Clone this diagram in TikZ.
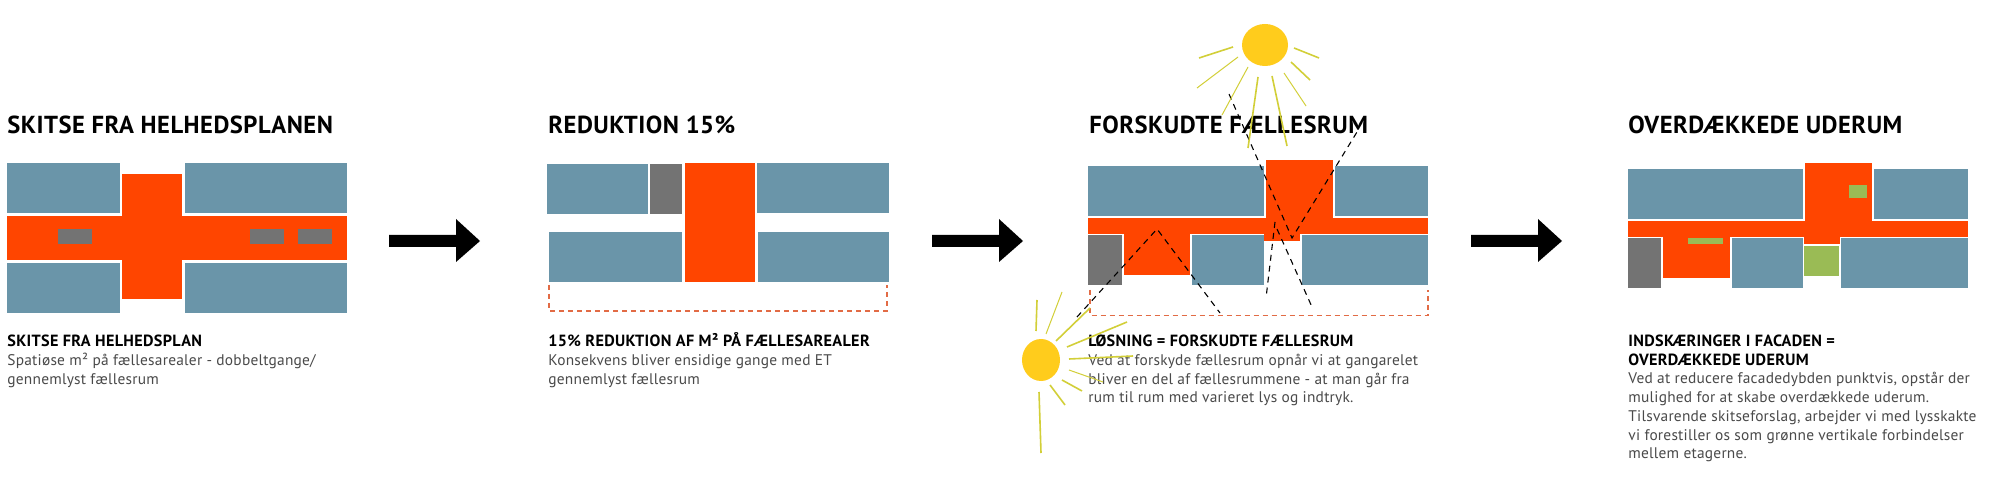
\documentclass[tikz,border=0pt]{standalone}
\usepackage{fontspec}
\setmainfont{PT Sans}
\definecolor{bluegrey}{HTML}{6A95A9}
\definecolor{hot}{HTML}{FF4500}
\definecolor{greybox}{HTML}{737373}
\definecolor{leaf}{HTML}{9ABB55}
\definecolor{sunfill}{HTML}{FFCC1C}
\definecolor{ray}{HTML}{D2CF38}
\definecolor{dashred}{HTML}{E26B45}
\definecolor{body}{HTML}{4A4A4A}
\newcommand{\bx}[3]{\fill[#1] (#2) rectangle (#3);}
\tikzset{
  x=0.5pt,y=-0.5pt,
  titletext/.style={anchor=base west,inner sep=0pt,font=\fontsize{12.3pt}{13pt}\selectfont\bfseries\addfontfeature{LetterSpace=2},text=black},
  headtext/.style={anchor=base west,inner sep=0pt,font=\fontsize{8.1pt}{9pt}\selectfont\bfseries\addfontfeature{LetterSpace=2},text=black},
  bodytext/.style={anchor=base west,inner sep=0pt,font=\fontsize{7.7pt}{9pt}\selectfont\addfontfeature{LetterSpace=1.5},text=body},
  rayline/.style={draw=ray,line width=0.8pt},
  raythin/.style={draw=ray,line width=0.5pt},
  blackdash/.style={draw=black,line width=0.55pt,dash pattern=on 3pt off 2.5pt},
  reddash/.style={draw=dashred,line width=0.7pt,dash pattern=on 2.5pt off 2pt},
}
\begin{document}
\begin{tikzpicture}
\useasboundingbox (0,0) rectangle (2000,496);
\fill[white] (0,0) rectangle (2000,496);
% panel 1
\bx{bluegrey}{7,163}{120,213}
\bx{bluegrey}{185,163}{347,213}
\bx{bluegrey}{7,263}{120,313}
\bx{bluegrey}{185,263}{347,313}
\bx{hot}{122,174}{182,299}
\bx{hot}{7,216}{347,260}
\bx{greybox}{58,229}{92,244}
\bx{greybox}{250,229}{284,244}
\bx{greybox}{298,229}{332,244}
% arrows
\fill[black] (389,235)--(456,235)--(456,219)--(480,241)--(456,262)--(456,247)--(389,247)--cycle;
\fill[black] (932,235)--(999,235)--(999,219)--(1023,241)--(999,262)--(999,247)--(932,247)--cycle;
\fill[black] (1471,235)--(1538,235)--(1538,219)--(1562,241)--(1538,262)--(1538,247)--(1471,247)--cycle;
% panel 2
\bx{bluegrey}{547,164}{648,214}
\bx{greybox}{650,164}{682,214}
\bx{hot}{685,163}{755,282}
\bx{bluegrey}{757,163}{889,213}
\bx{bluegrey}{549,232}{682,282}
\bx{bluegrey}{758,232}{889,282}
\draw[reddash] (549,285)--(549,311)--(887,311)--(887,285);
% panel 3
\bx{bluegrey}{1088,166}{1264,216}
\bx{bluegrey}{1335,166}{1428,216}
\bx{hot}{1266,160}{1333,218}
\bx{hot}{1088,218}{1428,234}
\bx{hot}{1264,234}{1300,241}
\bx{hot}{1124,234}{1190,275}
\bx{greybox}{1088,235}{1122,285}
\bx{bluegrey}{1192,235}{1264,285}
\bx{bluegrey}{1302,235}{1428,285}
\draw[reddash] (1090,290)--(1090,315.5)--(1428,315.5)--(1428,290);
% panel 4
\bx{bluegrey}{1628,169}{1803,219}
\bx{bluegrey}{1874,169}{1968,219}
\bx{hot}{1805,163}{1872,221}
\bx{hot}{1628,221}{1968,237}
\bx{hot}{1804,237}{1840,244}
\bx{hot}{1663,237}{1730,278}
\bx{leaf}{1849,185}{1867,198}
\bx{leaf}{1688,238}{1723,244}
\bx{leaf}{1804,246}{1839,276}
\bx{greybox}{1628,238}{1661,288}
\bx{bluegrey}{1732,238}{1803,288}
\bx{bluegrey}{1841,238}{1968,288}
% titles
\node[titletext] (t1) at (7,134) {SKITSE FRA HELHEDSPLANEN};
\node[titletext] (t2) at (548,134) {REDUKTION 15\%};
\node[titletext] (t3) at (1089,134) {FORSKUDTE FÆLLESRUM};
\node[titletext] (t4) at (1628,134) {OVERDÆKKEDE UDERUM};
% text 1
\node[headtext] (a1) at (7,346) {SKITSE FRA HELHEDSPLAN};
\node[bodytext] (a2) at (7,365) {Spatiøse m² på fællesarealer - dobbeltgange/};
\node[bodytext] (a3) at (7,384) {gennemlyst fællesrum};
% text 2
\node[headtext] (b1) at (548,346) {15\% REDUKTION AF M² PÅ FÆLLESAREALER};
\node[bodytext] (b2) at (548,365) {Konsekvens bliver ensidige gange med ET};
\node[bodytext] (b3) at (548,384) {gennemlyst fællesrum};
% text 3
\node[headtext] (c1) at (1088,346) {LØSNING = FORSKUDTE FÆLLESRUM};
\node[bodytext] (c2) at (1088,365) {Ved at forskyde fællesrum opnår vi at gangarelet};
\node[bodytext] (c3) at (1088,384) {bliver en del af fællesrummene - at man går fra};
\node[bodytext] (c4) at (1088,402) {rum til rum med varieret lys og indtryk.};
% text 4
\node[headtext] (d1) at (1628,346) {INDSKÆRINGER I FACADEN =};
\node[headtext] (d2) at (1628,365) {OVERDÆKKEDE UDERUM};
\node[bodytext] (d3) at (1628,383) {Ved at reducere facadedybden punktvis, opstår der};
\node[bodytext] (d4) at (1628,402) {mulighed for at skabe overdækkede uderum.};
\node[bodytext] (d5) at (1628,421) {Tilsvarende skitseforslag, arbejder vi med lysskakte};
\node[bodytext] (d6) at (1628,440) {vi forestiller os som grønne vertikale forbindelser};
\node[bodytext] (d7) at (1628,458) {mellem etagerne.};
% dashed sight lines
\draw[blackdash] (1229,94)--(1292,238)--(1357,132);
\draw[blackdash] (1275,222)--(1266,298);
\draw[blackdash] (1277,229)--(1312,307);
\draw[blackdash] (1077,317)--(1157,229)--(1220,313);
% top sun
\fill[sunfill] (1265,45) ellipse [x radius=23,y radius=21];
\draw[rayline] (1199,58)--(1233,47);
\draw[raythin] (1197,88)--(1238,57);
\draw[raythin] (1222,115)--(1248,67);
\draw[rayline] (1248,148)--(1258,77);
\draw[rayline] (1287,146)--(1272,76);
\draw[raythin] (1306,106)--(1284,73);
\draw[rayline] (1310,80)--(1291,62);
\draw[rayline] (1319,58)--(1294,48);
% lower sun
\fill[sunfill] (1041,360) ellipse [x radius=19,y radius=21];
\draw[rayline] (1036,331)--(1037,300);
\draw[raythin] (1046,334)--(1062,292);
\draw[rayline] (1056,341)--(1090,308);
\draw[rayline] (1067,347)--(1127,322);
\draw[rayline] (1069,359)--(1133,356);
\draw[raythin] (1069,370)--(1103,382);
\draw[rayline] (1062,380)--(1082,391);
\draw[rayline] (1050,385)--(1065,405);
\draw[rayline] (1039,392)--(1041,453);
\end{tikzpicture}
\end{document}
